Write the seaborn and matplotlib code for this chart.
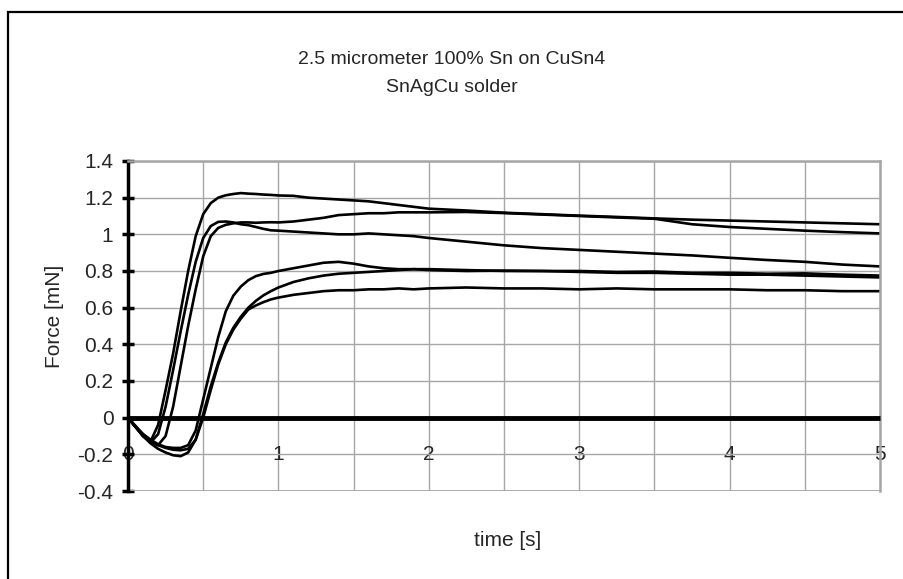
import numpy as np
import pandas as pd
import matplotlib
matplotlib.use("Agg")
import matplotlib.pyplot as plt
from matplotlib.patches import Rectangle
from matplotlib.ticker import MultipleLocator
import seaborn as sns

# ==================== DATA ====================

time_s = [0, 0.05, 0.1, 0.15, 0.2, 0.25, 0.3, 0.35, 0.4, 0.45,
          0.5, 0.55, 0.6, 0.65, 0.7, 0.75, 0.8, 0.85, 0.9, 0.95,
          1.0, 1.1, 1.2, 1.3, 1.4, 1.5, 1.6, 1.7, 1.8, 1.9,
          2.0, 2.25, 2.5, 2.75, 3.0, 3.25, 3.5, 3.75, 4.0, 4.25,
          4.5, 4.75, 5.0]

# highest plateau (~1.22 mN)
force_a = [0, -0.05, -0.10, -0.13, -0.04, 0.15, 0.35, 0.58, 0.80, 0.99,
           1.11, 1.17, 1.20, 1.213, 1.22, 1.225, 1.222, 1.22, 1.217, 1.215,
           1.212, 1.21, 1.20, 1.195, 1.19, 1.185, 1.18, 1.17, 1.16, 1.15,
           1.14, 1.13, 1.118, 1.11, 1.102, 1.095, 1.087, 1.08, 1.075, 1.07,
           1.065, 1.06, 1.055]

# rises to ~1.07 then rises slowly to ~1.12
force_b = [0, -0.05, -0.10, -0.13, -0.15, -0.10, 0.06, 0.28, 0.50, 0.70,
           0.88, 0.99, 1.035, 1.052, 1.06, 1.065, 1.065, 1.063, 1.065, 1.066,
           1.065, 1.07, 1.08, 1.09, 1.105, 1.11, 1.115, 1.115, 1.12, 1.12,
           1.12, 1.122, 1.116, 1.108, 1.10, 1.092, 1.085, 1.055, 1.04, 1.03,
           1.02, 1.012, 1.005]

# peaks at ~1.07 then decays to ~0.83
force_c = [0, -0.05, -0.10, -0.135, -0.09, 0.06, 0.26, 0.47, 0.67, 0.85,
           0.98, 1.045, 1.068, 1.07, 1.065, 1.055, 1.05, 1.04, 1.03, 1.022,
           1.02, 1.015, 1.01, 1.005, 1.0, 1.0, 1.005, 1.0, 0.995, 0.99,
           0.98, 0.96, 0.94, 0.925, 0.915, 0.905, 0.895, 0.885, 0.872, 0.86,
           0.85, 0.835, 0.825]

# lower group, bump ~0.85 around 1.4 s
force_d = [0, -0.05, -0.09, -0.12, -0.145, -0.16, -0.165, -0.165, -0.15, -0.07,
           0.10, 0.27, 0.44, 0.58, 0.665, 0.715, 0.75, 0.772, 0.784, 0.79,
           0.80, 0.815, 0.83, 0.845, 0.85, 0.84, 0.825, 0.815, 0.81, 0.81,
           0.805, 0.80, 0.802, 0.80, 0.80, 0.795, 0.797, 0.79, 0.79, 0.785,
           0.787, 0.78, 0.775]

# lower group, settles ~0.80
force_e = [0, -0.045, -0.09, -0.125, -0.15, -0.165, -0.175, -0.178, -0.17, -0.12,
           0.02, 0.17, 0.30, 0.41, 0.49, 0.55, 0.60, 0.637, 0.667, 0.69,
           0.71, 0.74, 0.76, 0.775, 0.785, 0.79, 0.795, 0.80, 0.805, 0.81,
           0.81, 0.805, 0.80, 0.80, 0.795, 0.79, 0.79, 0.785, 0.78, 0.78,
           0.775, 0.77, 0.765]

# lowest plateau (~0.70 mN)
force_f = [0, -0.05, -0.10, -0.14, -0.17, -0.19, -0.205, -0.21, -0.19, -0.12,
           0.0, 0.15, 0.29, 0.40, 0.48, 0.54, 0.59, 0.612, 0.63, 0.645,
           0.655, 0.67, 0.68, 0.69, 0.695, 0.695, 0.70, 0.70, 0.705, 0.70,
           0.705, 0.71, 0.705, 0.705, 0.70, 0.705, 0.70, 0.70, 0.70, 0.695,
           0.695, 0.69, 0.69]

curves = {"A": force_a, "B": force_b, "C": force_c,
          "D": force_d, "E": force_e, "F": force_f}

title_lines = ["2.5 micrometer 100% Sn on CuSn4", "SnAgCu solder"]
x_label = "time [s]"
y_label = "Force [mN]"

# ==================== BUILD TABLE ====================

frames = []
for name, vals in curves.items():
    frames.append(pd.DataFrame({"time": time_s, "force": vals, "curve": name}))
df = pd.concat(frames, ignore_index=True)

# ==================== PLOT ====================

sns.set_style("white")
plt.rcParams["font.family"] = ["Liberation Sans", "DejaVu Sans"]

W, H = 904, 579
fig = plt.figure(figsize=(W / 100, H / 100), dpi=100)
ax = fig.add_axes([128 / W, 1 - 491 / H, (880 - 128) / W, (491 - 161) / H])

grid_c = "#a6a6a6"

sns.lineplot(data=df, x="time", y="force", units="curve", estimator=None,
             color="black", linewidth=1.9, ax=ax, sort=False)

ax.set_xlim(0, 5)
ax.set_ylim(-0.4, 1.4)

ax.xaxis.set_major_locator(MultipleLocator(1))
ax.xaxis.set_minor_locator(MultipleLocator(0.5))
ax.yaxis.set_major_locator(MultipleLocator(0.2))
ax.grid(True, which="both", axis="x", color=grid_c, lw=1.0)
ax.grid(True, which="major", axis="y", color=grid_c, lw=1.0)
ax.set_axisbelow(True)

# spines: x axis sits on zero, left spine thick black, box edges gray
ax.spines["bottom"].set_position(("data", 0))
ax.spines["bottom"].set_linewidth(3.5)
ax.spines["bottom"].set_color("black")
ax.spines["bottom"].set_capstyle("butt")
ax.spines["left"].set_linewidth(2.5)
ax.spines["left"].set_color("black")
for s in ["top", "right"]:
    ax.spines[s].set_visible(True)
    ax.spines[s].set_color(grid_c)
    ax.spines[s].set_linewidth(1.8)
ax.axhline(-0.4, color=grid_c, lw=2.0, zorder=1)

ax.tick_params(axis="x", which="major", direction="inout", length=11, width=2.5,
               labelsize=15, pad=14, color="black")
ax.tick_params(axis="x", which="minor", direction="in", length=6, width=2.5,
               color="black")
ax.tick_params(axis="y", which="major", direction="inout", length=9, width=2.5,
               labelsize=15, pad=6, color="black", left=True)
ax.set_yticklabels([f"{v:g}" for v in np.round(ax.get_yticks(), 1)])

ax.set_xlabel(x_label, fontsize=15)
ax.set_ylabel(y_label, fontsize=15)
ax.xaxis.set_label_coords(0.505, (491 - 540) / 330)
ax.yaxis.set_label_coords((55 - 128) / 752, (491 - 316) / 330)
ax.xaxis.label.set_va("center")
ax.yaxis.label.set_va("center")

fig.text(452 / W, 1 - 60 / H, title_lines[0], ha="center", va="center", fontsize=14)
fig.text(452 / W, 1 - 87 / H, title_lines[1], ha="center", va="center", fontsize=14)

# outer chart frame (cut off at right and bottom)
fig.patches.append(Rectangle((8 / W, -0.1), 1.2, 1 - 12 / H + 0.1,
                             transform=fig.transFigure, fill=False,
                             edgecolor="black", lw=1.6))

fig.savefig("out.png", dpi=100)
